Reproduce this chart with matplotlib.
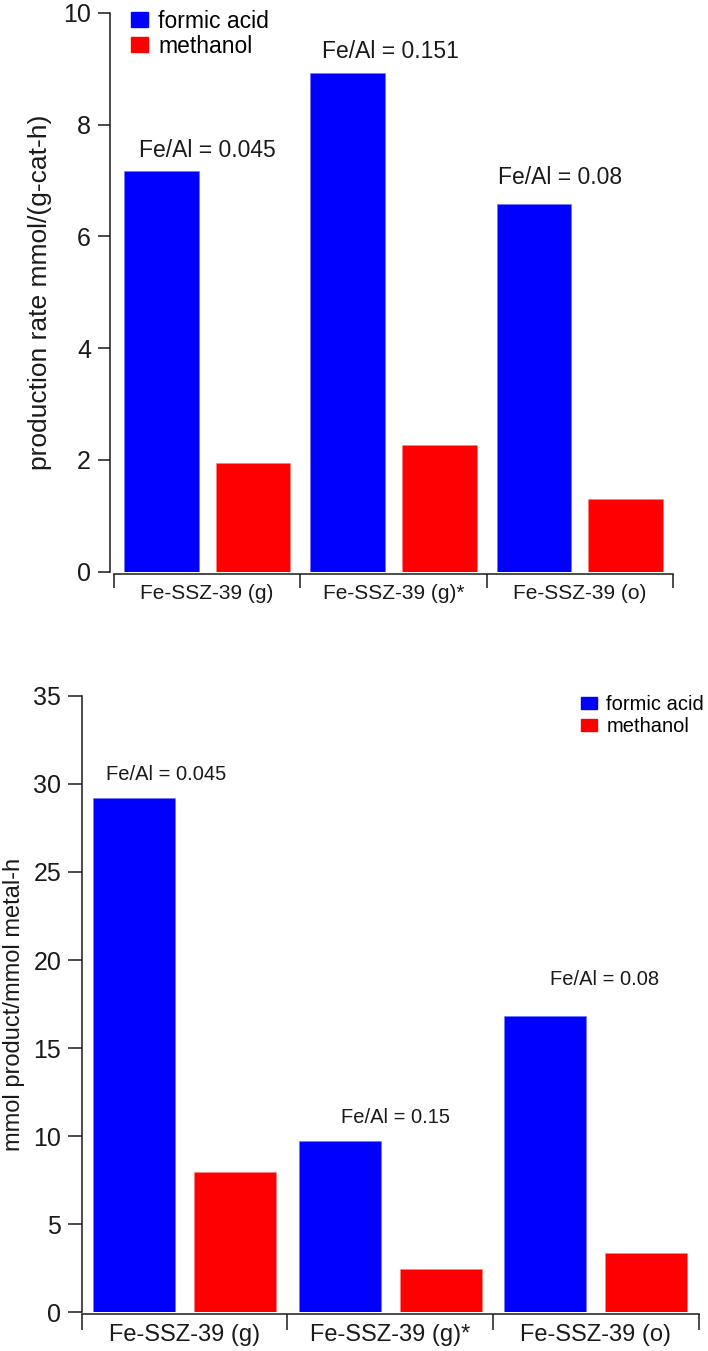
import matplotlib
matplotlib.use("Agg")
import matplotlib.pyplot as plt
import numpy as np
from matplotlib.patches import Patch

plt.rcParams["font.family"] = ["Liberation Sans", "DejaVu Sans"]

# ---- data ----
categories = ["Fe-SSZ-39 (g)", "Fe-SSZ-39 (g)*", "Fe-SSZ-39 (o)"]
series_names = ["formic acid", "methanol"]

rate_formic = [7.16, 8.92, 6.58]
rate_methanol = [1.94, 2.27, 1.31]
rate_notes = ["Fe/Al = 0.045", "Fe/Al = 0.151", "Fe/Al = 0.08"]

tof_formic = [29.18, 9.75, 16.85]
tof_methanol = [7.97, 2.47, 3.36]
tof_notes = ["Fe/Al = 0.045", "Fe/Al = 0.15", "Fe/Al = 0.08"]

BLUE = "#0000ff"
RED = "#ff0000"
INK = "#1a1a1a"
W = 0.40
OFF = 0.246


def draw_panel(ax, formic, methanol, ymax, ystep, ylabel, notes, note_dx, note_dy,
               tick_fs, cat_fs, note_fs, lab_fs, ytick_len, xtick_len, ypos, cat_pad):
    x = np.arange(len(categories)) + 0.5
    ax.bar(x - OFF, formic, width=W, color=BLUE, edgecolor="#6f6fff", linewidth=0.4)
    ax.bar(x + OFF, methanol, width=W, color=RED, edgecolor="#ff8080", linewidth=0.4)

    for i, (t, v) in enumerate(zip(notes, formic)):
        ax.text(i + note_dx[i], v + note_dy[i], t, ha="left", va="center",
                fontsize=note_fs, color=INK)

    ax.set_xlim(0, len(categories))
    ax.set_ylim(0, ymax)
    ax.set_yticks(np.arange(0, ymax + 0.01, ystep))
    ax.set_xticks(np.arange(len(categories) + 1))
    ax.set_xticklabels([])
    ax.set_xticks(x, minor=True)
    ax.set_xticklabels(categories, minor=True)
    ax.tick_params(axis="x", which="major", direction="out", length=xtick_len,
                   width=1.1, color=INK)
    ax.tick_params(axis="x", which="minor", length=0, pad=cat_pad,
                   labelsize=cat_fs, labelcolor=INK)
    ax.tick_params(axis="y", direction="out", length=ytick_len, width=1.1,
                   color=INK, labelsize=tick_fs, labelcolor=INK, pad=5)

    for s in ("top", "right"):
        ax.spines[s].set_visible(False)
    for s in ("left", "bottom"):
        ax.spines[s].set_linewidth(1.1)
        ax.spines[s].set_color(INK)

    ax.set_ylabel(ylabel, fontsize=lab_fs, color=INK, va="center")
    ax.yaxis.set_label_coords(ypos, 0.5)


fig = plt.figure(figsize=(7.08, 13.51), dpi=100)

# top panel: production rate
ax1 = fig.add_axes([0.161, 0.5768, 0.7895, 0.4138])
draw_panel(ax1, rate_formic, rate_methanol, 10, 2,
           "production rate mmol/(g-cat-h)", rate_notes,
           note_dx=[0.134, 1.117 - 1, 2.06 - 2], note_dy=[0.38, 0.38, 0.48],
           tick_fs=18, cat_fs=15, note_fs=16.5, lab_fs=19,
           ytick_len=8.6, xtick_len=10, ypos=-0.132, cat_pad=7)
ax1.spines["left"].set_position(("outward", 2.9))
ax1.spines["bottom"].set_position(("outward", 1.7))
ax1.legend(handles=[Patch(color=BLUE, label=series_names[0]),
                    Patch(color=RED, label=series_names[1])],
           loc="upper left", bbox_to_anchor=(0.005, 1.03), frameon=False,
           fontsize=16.5, handlelength=0.75, handleheight=0.6,
           handletextpad=0.45, labelspacing=0.08, borderaxespad=0.2)

# bottom panel: per-metal productivity
ax2 = fig.add_axes([0.1158, 0.0285, 0.8708, 0.4566])
draw_panel(ax2, tof_formic, tof_methanol, 35, 5,
           "mmol product/mmol metal-h", tof_notes,
           note_dx=[0.117, 1.259 - 1, 2.277 - 2], note_dy=[1.32, 1.31, 2.06],
           tick_fs=18, cat_fs=17, note_fs=14.5, lab_fs=17,
           ytick_len=10, xtick_len=11.5, ypos=-0.11, cat_pad=7)
ax2.spines["bottom"].set_position(("outward", 1.2))
ax2.legend(handles=[Patch(color=BLUE, label=series_names[0]),
                    Patch(color=RED, label=series_names[1])],
           loc="upper left", bbox_to_anchor=(0.79, 1.02), frameon=False,
           fontsize=14.5, handlelength=0.8, handleheight=0.55,
           handletextpad=0.45, labelspacing=0.12, borderaxespad=0.2)

fig.savefig("out.png", dpi=100)
